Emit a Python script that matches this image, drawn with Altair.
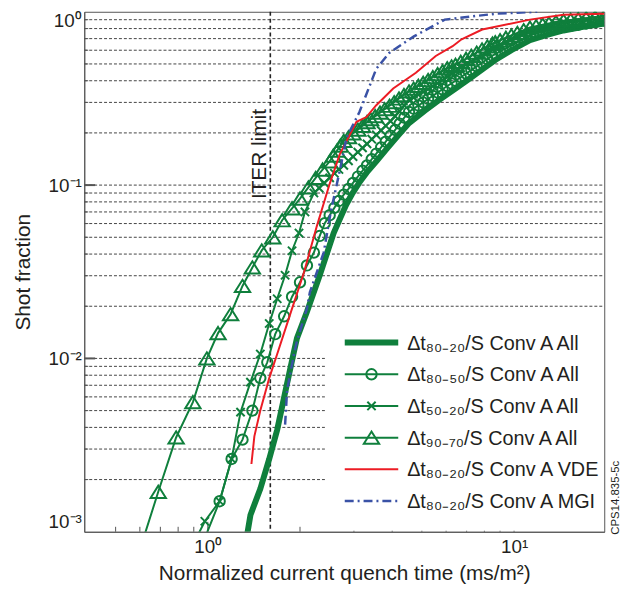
import altair as alt
import pandas as pd

# ================== DATA ==================
# x: normalized current quench time (ms/m^2), y: cumulative shot fraction

THICK_X = [1.34, 1.378, 1.484, 1.587, 1.685, 1.815, 1.912, 1.955, 2.107, 2.32, 2.576, 2.70,
           2.83, 2.97, 3.12, 3.30, 3.55, 3.85, 4.2, 4.54, 5.1, 5.7, 6.44, 7.2, 8.0, 8.68, 9.8,
           11.27, 12.8, 14.5, 16.8, 19.7]
THICK_Y = [0.00093, 0.00125, 0.00177, 0.00263, 0.00388, 0.00718, 0.011, 0.0131, 0.0186, 0.0302,
           0.0529, 0.064, 0.077, 0.090, 0.103, 0.118, 0.137, 0.163, 0.195, 0.228, 0.268, 0.31,
           0.361, 0.415, 0.475, 0.527, 0.6, 0.685, 0.735, 0.78, 0.82, 0.855]

CIRC_X = [0.963, 1.093, 1.196, 1.298, 1.398, 1.484, 1.564, 1.66, 1.775, 1.884, 2.0, 2.107,
          2.22, 2.32, 2.41, 2.50, 2.59, 2.68, 2.78, 2.88, 2.98, 3.09, 3.20, 3.31, 3.43, 3.55,
          3.68, 3.81, 3.95, 4.09, 4.23, 4.38, 4.54, 4.70, 4.87, 5.05, 5.24, 5.43, 5.63, 5.84,
          6.05, 6.25, 6.44, 6.70, 6.97, 7.25, 7.55, 7.86, 8.18, 8.50, 8.68, 9.00, 9.40, 9.80,
          10.25, 10.75, 11.27, 11.8, 12.4, 13.0, 13.7, 14.5, 15.3, 16.2, 17.2, 18.4, 19.7]
CIRC_Y = [0.00086, 0.0015, 0.00263, 0.0034, 0.0050, 0.0077, 0.0095, 0.0138, 0.0175, 0.0227,
          0.0275, 0.0344, 0.0408, 0.0509, 0.0603, 0.067, 0.074, 0.081, 0.088, 0.095, 0.103,
          0.112, 0.121, 0.130, 0.141, 0.152, 0.165, 0.178, 0.193, 0.208, 0.226, 0.245, 0.264,
          0.276, 0.288, 0.300, 0.314, 0.327, 0.342, 0.357, 0.373, 0.386, 0.400, 0.419, 0.440,
          0.461, 0.484, 0.508, 0.533, 0.558, 0.570, 0.590, 0.614, 0.638, 0.665, 0.696, 0.730,
          0.748, 0.767, 0.785, 0.802, 0.820, 0.830, 0.842, 0.856, 0.872, 0.889]

CROSS_X = [0.90, 0.978, 1.093, 1.196, 1.279, 1.378, 1.484, 1.587, 1.685, 1.788, 1.884, 1.985,
           2.076, 2.22, 2.31, 2.40, 2.50, 2.59, 2.68, 2.78, 2.88, 2.98, 3.09, 3.20, 3.31, 3.43,
           3.55, 3.68, 3.81, 3.95, 4.09, 4.23, 4.38, 4.54, 4.70, 4.87, 5.05, 5.24, 5.43, 5.63,
           5.84, 6.05, 6.25, 6.44, 6.70, 6.97, 7.25, 7.55, 7.86, 8.18, 8.50, 8.68, 9.00, 9.40,
           9.80, 10.25, 10.75, 11.27, 11.8, 12.4, 13.0, 13.7, 14.5, 15.3, 16.2, 17.2, 18.4, 19.7]
CROSS_Y = [0.00086, 0.00115, 0.0015, 0.00263, 0.0049, 0.0073, 0.0106, 0.0159, 0.0221, 0.0302,
           0.0418, 0.0529, 0.070, 0.090, 0.096, 0.103, 0.110, 0.117, 0.123, 0.130, 0.138, 0.146,
           0.155, 0.164, 0.173, 0.184, 0.195, 0.207, 0.220, 0.234, 0.250, 0.267, 0.288, 0.310,
           0.320, 0.332, 0.345, 0.358, 0.372, 0.387, 0.403, 0.421, 0.438, 0.456, 0.475, 0.495,
           0.516, 0.539, 0.563, 0.590, 0.612, 0.624, 0.645, 0.671, 0.697, 0.725, 0.753, 0.780,
           0.797, 0.815, 0.832, 0.849, 0.866, 0.874, 0.883, 0.893, 0.903, 0.913]

TRI_X = [0.603, 0.689, 0.788, 0.894, 0.993, 1.08, 1.187, 1.298, 1.398, 1.50, 1.63, 1.749,
         1.884, 2.0, 2.13, 2.25, 2.37, 2.50, 2.57, 2.64, 2.71, 2.78, 2.88, 2.98, 3.09, 3.20,
         3.31, 3.40, 3.52, 3.65, 3.78, 3.92, 4.06, 4.21, 4.37, 4.54, 4.70, 4.87, 5.05, 5.24,
         5.43, 5.63, 5.84, 6.05, 6.25, 6.44, 6.70, 6.97, 7.25, 7.55, 7.86, 8.18, 8.50, 8.68,
         9.00, 9.40, 9.80, 10.25, 10.75, 11.27, 11.8, 12.4, 13.0, 13.7, 14.5, 15.3, 16.2, 17.2,
         18.4, 19.7]
TRI_Y = [0.00081, 0.0017, 0.0035, 0.0056, 0.0100, 0.0140, 0.0180, 0.0262, 0.0335, 0.0420,
         0.0500, 0.0627, 0.0734, 0.0836, 0.097, 0.11, 0.123, 0.137, 0.148, 0.158, 0.169, 0.180,
         0.189, 0.199, 0.209, 0.220, 0.231, 0.240, 0.250, 0.262, 0.274, 0.287, 0.301, 0.316,
         0.331, 0.347, 0.360, 0.374, 0.389, 0.404, 0.420, 0.437, 0.454, 0.472, 0.484, 0.494,
         0.514, 0.535, 0.557, 0.581, 0.606, 0.631, 0.655, 0.667, 0.685, 0.708, 0.730, 0.755,
         0.783, 0.811, 0.826, 0.842, 0.857, 0.873, 0.889, 0.898, 0.908, 0.918, 0.929, 0.94]

VDE_X = [1.388, 1.419, 1.484, 1.587, 1.685, 1.856, 2.061, 2.27, 2.39, 2.50, 2.694, 3.058,
         3.294, 3.549, 4.03, 4.78, 5.55, 6.30, 6.74, 7.87, 11.27, 14.5, 19.7]
VDE_Y = [0.00246, 0.00355, 0.0050, 0.0077, 0.0106, 0.0179, 0.0314, 0.058, 0.0783, 0.1017,
         0.150, 0.232, 0.247, 0.289, 0.361, 0.445, 0.556, 0.633, 0.694, 0.79, 0.901, 0.962,
         0.974]

MGI_X = [1.788, 1.815, 1.912, 1.955, 2.107, 2.154, 2.39, 2.52, 2.694, 2.839, 3.127, 3.549,
         3.91, 4.213, 4.71, 5.94, 8.68, 11.9]
MGI_Y = [0.00415, 0.00655, 0.0106, 0.0126, 0.0194, 0.0241, 0.0408, 0.070, 0.12, 0.188, 0.264,
         0.469, 0.578, 0.633, 0.721, 0.901, 0.974, 1.0]

ITER_LIMIT = 1.6
ITER_LABEL_Y = 0.083

LEGEND_LABELS = [
    "Δt₈₀₋₂₀/S Conv A All",
    "Δt₈₀₋₅₀/S Conv A All",
    "Δt₅₀₋₂₀/S Conv A All",
    "Δt₉₀₋₇₀/S Conv A All",
    "Δt₈₀₋₂₀/S Conv A VDE",
    "Δt₈₀₋₂₀/S Conv A MGI",
]

X_MINOR = [0.5, 0.6, 0.7, 0.8, 0.9, 2, 3, 4, 5, 6, 7, 8, 9]
X_MAJOR = [1, 10]
Y_MINOR = [0.002, 0.003, 0.004, 0.005, 0.006, 0.007, 0.008, 0.009,
           0.02, 0.03, 0.04, 0.05, 0.06, 0.07, 0.08, 0.09,
           0.2, 0.3, 0.4, 0.5, 0.6, 0.7, 0.8, 0.9]
Y_MAJOR = [0.01, 0.1]
Y_LABELS = [0.001, 0.01, 0.1, 1]

# ================== STYLE ==================
W, H = 525, 525
FONT = "Liberation Sans"
INK = "#231F20"
AXC = "#555555"
GREEN = "#0F7F3C"
RED = "#EC1C24"
BLUE = "#3A52A6"
TRI_PATH = "M0,-0.8L1,0.8L-1,0.8Z"
X_PATH = "M-1,-1L1,1M-1,1L1,-1"

XS = alt.Scale(type="log", domain=[0.395, 19.7], nice=False)
YS = alt.Scale(type="log", domain=[0.001, 1], nice=False)
LEG_Y = alt.Scale(domain=[0, 5], range=[334, 494], nice=False, zero=False)

X_AXIS = alt.Axis(
    values=X_MAJOR,
    labelExpr="datum.value > 5 ? '10¹' : '10⁰'",
    ticks=False, grid=False, domainColor=AXC,
    labelFont=FONT, labelFontSize=19, labelColor=INK,
    labelBaseline="alphabetic", labelPadding=21,
    title="Normalized current quench time (ms/m²)",
    titleFont=FONT, titleFontSize=21, titleFontWeight="normal", titleColor=INK,
    titleBaseline="alphabetic", titleY=48, zindex=1,
)
Y_AXIS = alt.Axis(
    values=Y_LABELS,
    labelExpr="datum.value > 0.5 ? '10⁰' : datum.value > 0.05 ? '10⁻¹' : datum.value > 0.005 ? '10⁻²' : '10⁻³'",
    ticks=False, grid=False, domainColor=AXC,
    labelFont=FONT, labelFontSize=19, labelColor=INK, labelPadding=3, labelFlush=True,
    title="Shot fraction",
    titleFont=FONT, titleFontSize=21, titleFontWeight="normal", titleColor=INK,
    titleAngle=270, titleBaseline="middle", titleX=-61, titleY=H / 2, zindex=1,
)


def xq():
    return alt.X("x:Q", scale=XS, axis=X_AXIS)


def yq(axis=None):
    return alt.Y("y:Q", scale=YS, axis=axis)


one = pd.DataFrame({"a": [0]})

# ================== FRAME: grid, ticks, ITER limit ==================
grid = alt.Chart(pd.DataFrame({"y": Y_MINOR + Y_MAJOR})).mark_rule(
    color="#444444", strokeWidth=1, strokeDash=[3, 2]
).encode(x=alt.value(0), x2=alt.value(W), y=yq(Y_AXIS))

xt_minor = alt.Chart(pd.DataFrame({"x": X_MINOR})).mark_rule(color=AXC).encode(
    x=xq(), y=alt.value(H), y2=alt.value(H - 5))
xt_major = alt.Chart(pd.DataFrame({"x": X_MAJOR})).mark_rule(color=AXC).encode(
    x=xq(), y=alt.value(H), y2=alt.value(H - 10))
yt_minor = alt.Chart(pd.DataFrame({"y": Y_MINOR})).mark_rule(color=AXC).encode(
    y=yq(), x=alt.value(0), x2=alt.value(4))
yt_major = alt.Chart(pd.DataFrame({"y": Y_MAJOR})).mark_rule(color=AXC, strokeWidth=2).encode(
    y=yq(), x=alt.value(0), x2=alt.value(11))

iter_rule = alt.Chart(pd.DataFrame({"x": [ITER_LIMIT]})).mark_rule(
    color="#222222", strokeWidth=1.6, strokeDash=[4, 3]
).encode(x=xq(), y=alt.value(0), y2=alt.value(H))
iter_text = alt.Chart(pd.DataFrame({"x": [ITER_LIMIT], "y": [ITER_LABEL_Y], "t": ["ITER limit"]})).mark_text(
    angle=270, align="left", baseline="alphabetic", dy=-4, font=FONT, fontSize=21, color=INK
).encode(x=xq(), y=yq(), text="t:N")

legend_box = alt.Chart(one).mark_rect(color="white").encode(
    x=alt.value(243), x2=alt.value(W - 1), y=alt.value(318), y2=alt.value(H - 1))

# ================== CURVES ==================
SERIES = [
    dict(x=THICK_X, y=THICK_Y, color=GREEN, width=6, dash=None, shape=None, size=0),
    dict(x=CIRC_X, y=CIRC_Y, color=GREEN, width=2, dash=None, shape="circle", size=110),
    dict(x=CROSS_X, y=CROSS_Y, color=GREEN, width=2, dash=None, shape=X_PATH, size=70),
    dict(x=TRI_X, y=TRI_Y, color=GREEN, width=2, dash=None, shape=TRI_PATH, size=240),
    dict(x=VDE_X, y=VDE_Y, color=RED, width=2, dash=None, shape=None, size=0),
    dict(x=MGI_X, y=MGI_Y, color=BLUE, width=2.5, dash=[9, 4, 2, 4], shape=None, size=0),
]

layers = [grid, xt_minor, xt_major, yt_minor, yt_major, iter_rule, iter_text, legend_box]

for s in SERIES:
    df = pd.DataFrame({"x": s["x"], "y": s["y"], "i": range(len(s["x"]))})
    line_kw = dict(color=s["color"], strokeWidth=s["width"], clip=True)
    if s["dash"]:
        line_kw["strokeDash"] = s["dash"]
    layers.append(alt.Chart(df).mark_line(**line_kw).encode(x=xq(), y=yq(), order="i:Q"))
    if s["shape"]:
        layers.append(
            alt.Chart(df).mark_point(
                shape=s["shape"], size=s["size"], filled=False, strokeWidth=2,
                color=s["color"], opacity=1, clip=True
            ).encode(x=xq(), y=yq())
        )

# ================== LEGEND ==================
legend_df = pd.DataFrame({"row": range(len(LEGEND_LABELS)), "label": LEGEND_LABELS})
for r, s in enumerate(SERIES):
    row_df = legend_df[legend_df["row"] == r]
    ly = alt.Y("row:Q", scale=LEG_Y, axis=None)
    rule_kw = dict(color=s["color"], strokeWidth=s["width"])
    if s["dash"]:
        rule_kw["strokeDash"] = s["dash"]
    layers.append(alt.Chart(row_df).mark_rule(**rule_kw).encode(
        x=alt.value(263), x2=alt.value(317), y=ly))
    if s["shape"]:
        layers.append(alt.Chart(row_df).mark_point(
            shape=s["shape"], size=s["size"], filled=False, strokeWidth=2,
            color=s["color"], opacity=1
        ).encode(x=alt.value(290), y=ly))

layers.append(alt.Chart(legend_df).mark_text(
    align="left", baseline="alphabetic", dy=7, font=FONT, fontSize=20, color=INK
).encode(x=alt.value(326), y=alt.Y("row:Q", scale=LEG_Y, axis=None), text="label:N"))

layers.append(alt.Chart(one).mark_text(
    angle=270, align="left", baseline="middle", font=FONT, fontSize=11.5, color=INK
).encode(x=alt.value(W + 12), y=alt.value(528), text=alt.value("CPS14.835-5c")))

chart = (
    alt.layer(*layers)
    .resolve_scale(y="independent")
    .properties(
        width=W, height=H,
        autosize=alt.AutoSizeParams(type="none"),
        padding={"left": 77, "top": 1, "right": 26, "bottom": 56},
    )
    .configure(background="white")
    .configure_view(stroke=AXC, strokeWidth=1)
)

chart.save("out.html", embed_options={"renderer": "svg", "actions": False})
